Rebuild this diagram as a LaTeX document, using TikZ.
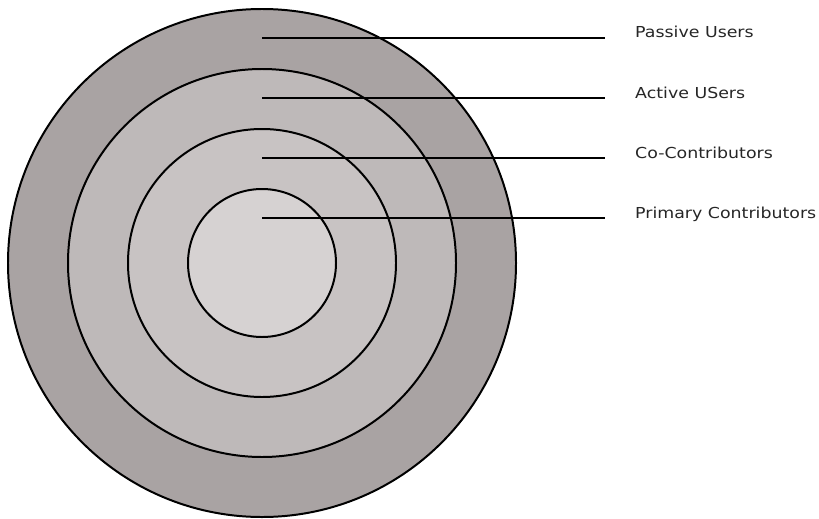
\documentclass[tikz,border=0pt]{standalone}
\usepackage{fontspec}
\usepackage{xcolor}
\usepackage{tikz}
\newfontfamily\lblfont[FakeStretch=1.15]{DejaVu Sans}
\definecolor{ringa}{HTML}{A9A3A3}
\definecolor{ringb}{HTML}{BEB9B9}
\definecolor{ringc}{HTML}{C8C3C3}
\definecolor{ringd}{HTML}{D6D2D2}
\tikzset{
  vring/.style={draw=black,line width=1.7pt},
  vlead/.style={line width=1.7pt,draw=black},
  vlbl/.style={font=\lblfont\fontsize{12.9pt}{14pt}\selectfont,text=black!85,anchor=base west,inner xsep=0.9cm,inner ysep=0pt}
}
\begin{document}
\begin{tikzpicture}[x=0.03cm,y=0.03cm]
  \useasboundingbox (0,0) rectangle (819,518);
  \coordinate (c) at (262,255);
  \draw[vring,fill=ringa] (c) circle[radius=254*0.03cm];
  \draw[vring,fill=ringb] (c) circle[radius=194*0.03cm];
  \draw[vring,fill=ringc] (c) circle[radius=134*0.03cm];
  \draw[vring,fill=ringd] (c) circle[radius=74*0.03cm];
  \coordinate (pin) at (262,480);
  \coordinate (ain) at (262,420);
  \coordinate (cin) at (262,360);
  \coordinate (rin) at (262,300);
  \node[vlbl] (passive) at (605,480) {Passive Users};
  \node[vlbl] (active) at (605,420) {Active USers};
  \node[vlbl] (cocontrib) at (605,360) {Co-Contributors};
  \node[vlbl] (primary) at (605,300) {Primary Contributors};
  \draw[vlead] (pin) -- (passive.base west);
  \draw[vlead] (ain) -- (active.base west);
  \draw[vlead] (cin) -- (cocontrib.base west);
  \draw[vlead] (rin) -- (primary.base west);
\end{tikzpicture}
\end{document}
